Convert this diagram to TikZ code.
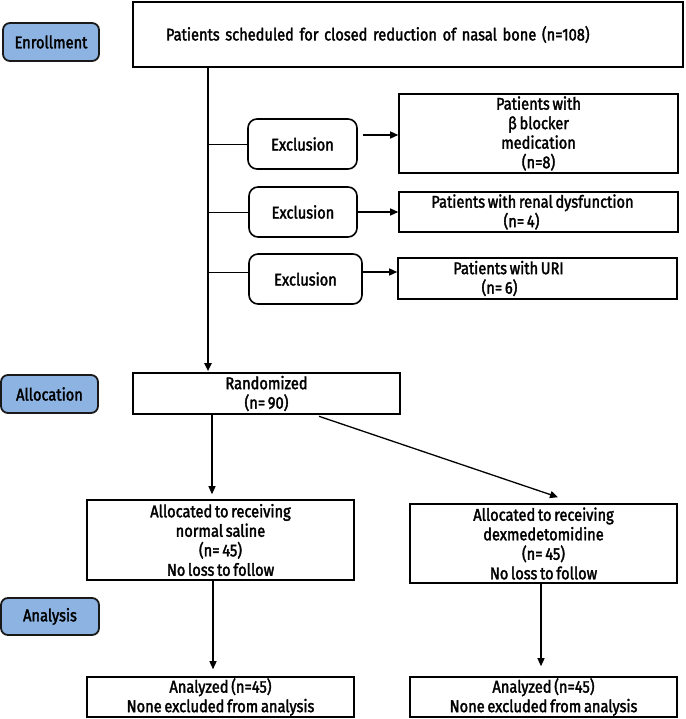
\documentclass[tikz,border=0pt]{standalone}
\usepackage{fontspec}
\setmainfont{Fira Sans}[FakeStretch=0.86, FakeBold=2, WordSpace=0.7]
\usetikzlibrary{arrows.meta,calc}
\definecolor{phase}{HTML}{8DB3E2}
\begin{document}
\begin{tikzpicture}[x=1pt,y=-1pt,
  every node/.style={font=\fontsize{17}{19.5}\selectfont, inner sep=0pt, align=center},
  box/.style={draw=black, line width=1.6pt, rectangle},
  rbox/.style={draw=black, line width=1.6pt, rounded corners=9pt},
  phasebox/.style={draw=black!90, line width=1.8pt, rounded corners=7pt, fill=phase},
  arr/.style={line width=1.3pt, -{Triangle[length=8pt,width=7pt]}},
  thin line/.style={line width=0.8pt}]
\useasboundingbox (0,0) rectangle (685,719);
\fill[white] (0,0) rectangle (685,719);
% phase labels
\node[phasebox, minimum width=96pt, minimum height=38pt] (enr) at (51,42) {Enrollment};
\node[phasebox, minimum width=97pt, minimum height=38pt] (alc) at (49.5,394) {Allocation};
\node[phasebox, minimum width=98pt, minimum height=37pt] (ana) at (50,616.5) {Analysis};
% top box
\node[box, minimum width=550pt, minimum height=65pt, text width=484pt, inner xsep=33pt, align=left] (top) at (408,34.5) {Patients scheduled for closed reduction of nasal bone (n=108)};
% exclusions
\node[rbox, minimum width=109pt, minimum height=50pt] (ex1) at (302.5,144) {Exclusion};
\node[rbox, minimum width=108pt, minimum height=50pt] (ex2) at (303,212) {Exclusion};
\node[rbox, minimum width=113pt, minimum height=50pt] (ex3) at (305.5,279) {Exclusion};
\node[box, minimum width=279pt, minimum height=79pt] (b1) at (538.5,133.5) {Patients with\\ β blocker\\ medication\\ (n=8)};
\node[box, minimum width=279pt, minimum height=40pt] (b2) at (538.5,212) {Patients with renal dysfunction\hspace*{12pt}\\ (n= 4)\hspace*{34pt}};
\node[box, minimum width=279pt, minimum height=41pt] (b3) at (537.5,278.5) {Patients with URI\hspace*{58pt}\\ (n= 6)\hspace*{76pt}};
% randomized
\node[box, minimum width=267pt, minimum height=41pt] (rand) at (266.5,393.5) {Randomized\\ (n= 90)};
\node[box, minimum width=267pt, minimum height=80pt] (al1) at (220.5,540) {Allocated to receiving\\ normal saline\\ (n= 45)\\ No loss to follow};
\node[box, minimum width=267pt, minimum height=79pt] (al2) at (543.5,543.5) {Allocated to receiving\\ dexmedetomidine\\ (n= 45)\\ No loss to follow};
\node[box, minimum width=267pt, minimum height=40pt] (an1) at (220.5,697) {Analyzed (n=45)\\ None excluded from analysis};
\node[box, minimum width=267pt, minimum height=40pt] (an2) at (543.5,697) {Analyzed (n=45)\\ None excluded from analysis};
% connectors
\coordinate (vx) at (208,0);
\draw[arr, line width=1.8pt] (top.south -| vx) -- ([yshift=1pt]rand.north -| vx);
\draw[thin line] (vx |- ex1.west) -- (ex1.west);
\draw[thin line] (vx |- ex2.west) -- (ex2.west);
\draw[thin line] ($(vx |- ex3.west)+(0,-7)$) -- ($(ex3.west)+(0,-7)$);
\draw[arr] ($(ex1.east)+(5,-9)$) -- ($(b1.west |- ex1.east)+(0,-9)$);
\draw[arr] (ex2.east) -- (b2.west |- ex2.east);
\draw[arr] ($(ex3.east)+(0,-7)$) -- ($(b3.west |- ex3.east)+(0,-7)$);
\coordinate (rx) at (212,0);
\draw[arr] (rand.south -| rx) -- ([yshift=5pt]al1.north -| rx);
\coordinate (dx) at (319,0);
\draw[arr] ($(rand.south -| dx)+(0,1.5)$) -- ($(al2.north)+(14.5,-6)$);
\coordinate (lx) at (213,0);
\coordinate (rx2) at (541,0);
\draw[arr] (al1.south -| lx) -- ([yshift=7pt]an1.north -| lx);
\draw[arr] (al2.south -| rx2) -- ([yshift=10pt]an2.north -| rx2);
\end{tikzpicture}
\end{document}
